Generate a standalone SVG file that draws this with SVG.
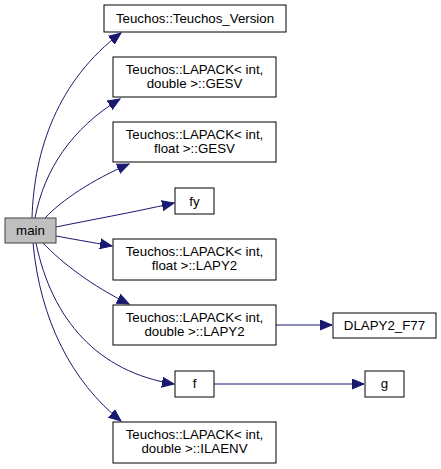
<svg xmlns="http://www.w3.org/2000/svg" width="441" height="469" viewBox="0 0 441 469">
<style>
.n rect{fill:#fff;stroke:#000;stroke-width:1}
.m rect{fill:#bfbfbf;stroke:#404040;stroke-width:1}
text{font-family:"Liberation Sans",Arial,sans-serif;font-size:13.3px;text-anchor:middle;fill:#000}
.e path{fill:none;stroke:#191970;stroke-width:1}
</style>
<defs>
<marker id="a" markerWidth="13" markerHeight="11" refX="12" refY="5.5" orient="auto" markerUnits="userSpaceOnUse">
<path d="M0,0.5 L12,5.5 L0,10.5 Z" fill="#191970" stroke="#191970"/>
</marker>
</defs>
<rect width="441" height="469" fill="#fff"/>
<g id="connectors" class="e">
<path d="M32,218 C34,150 58,80 121,33" marker-end="url(#a)"/>
<path d="M35,218 C44,170 72,128 120,99" marker-end="url(#a)"/>
<path d="M45,218 C62,200 92,180 129,164" marker-end="url(#a)"/>
<path d="M56,227 C90,220 130,213 174,203" marker-end="url(#a)"/>
<path d="M56,236 C72,239 90,242 112,246" marker-end="url(#a)"/>
<path d="M43,243 C62,263 92,286 129,304" marker-end="url(#a)"/>
<path d="M36,243 C52,320 98,372 174,384" marker-end="url(#a)"/>
<path d="M33,243 C40,320 72,382 121,421" marker-end="url(#a)"/>
<path d="M276,325 L332,325" marker-end="url(#a)"/>
<path d="M214,384 L364,384" marker-end="url(#a)"/>
</g>
<g id="main" class="m"><rect x="5" y="218" width="51" height="25"/><text x="30.5" y="235">main</text></g>
<g id="version" class="n"><rect x="104" y="5" width="182" height="27"/><text x="195" y="23">Teuchos::Teuchos_Version</text></g>
<g id="gesv_double" class="n"><rect x="113" y="57" width="163" height="40"/><text x="194.5" y="74">Teuchos::LAPACK&lt; int,</text><text x="194.5" y="88">double &gt;::GESV</text></g>
<g id="gesv_float" class="n"><rect x="113" y="122" width="163" height="40"/><text x="194.5" y="139">Teuchos::LAPACK&lt; int,</text><text x="194.5" y="153">float &gt;::GESV</text></g>
<g id="fy" class="n"><rect x="175" y="188" width="39" height="26"/><text x="194.5" y="205.5">fy</text></g>
<g id="lapy2_float" class="n"><rect x="113" y="239" width="163" height="41"/><text x="194.5" y="256">Teuchos::LAPACK&lt; int,</text><text x="194.5" y="270">float &gt;::LAPY2</text></g>
<g id="lapy2_double" class="n"><rect x="113" y="305" width="163" height="40"/><text x="194.5" y="322">Teuchos::LAPACK&lt; int,</text><text x="194.5" y="336">double &gt;::LAPY2</text></g>
<g id="dlapy2" class="n"><rect x="333" y="313" width="103" height="25"/><text x="384.5" y="330">DLAPY2_F77</text></g>
<g id="f" class="n"><rect x="175" y="371" width="39" height="26"/><text x="194.5" y="388">f</text></g>
<g id="g" class="n"><rect x="365" y="371" width="39" height="26"/><text x="384.5" y="388">g</text></g>
<g id="ilaenv" class="n"><rect x="113" y="422" width="163" height="41"/><text x="194.5" y="439">Teuchos::LAPACK&lt; int,</text><text x="194.5" y="453">double &gt;::ILAENV</text></g>
</svg>
